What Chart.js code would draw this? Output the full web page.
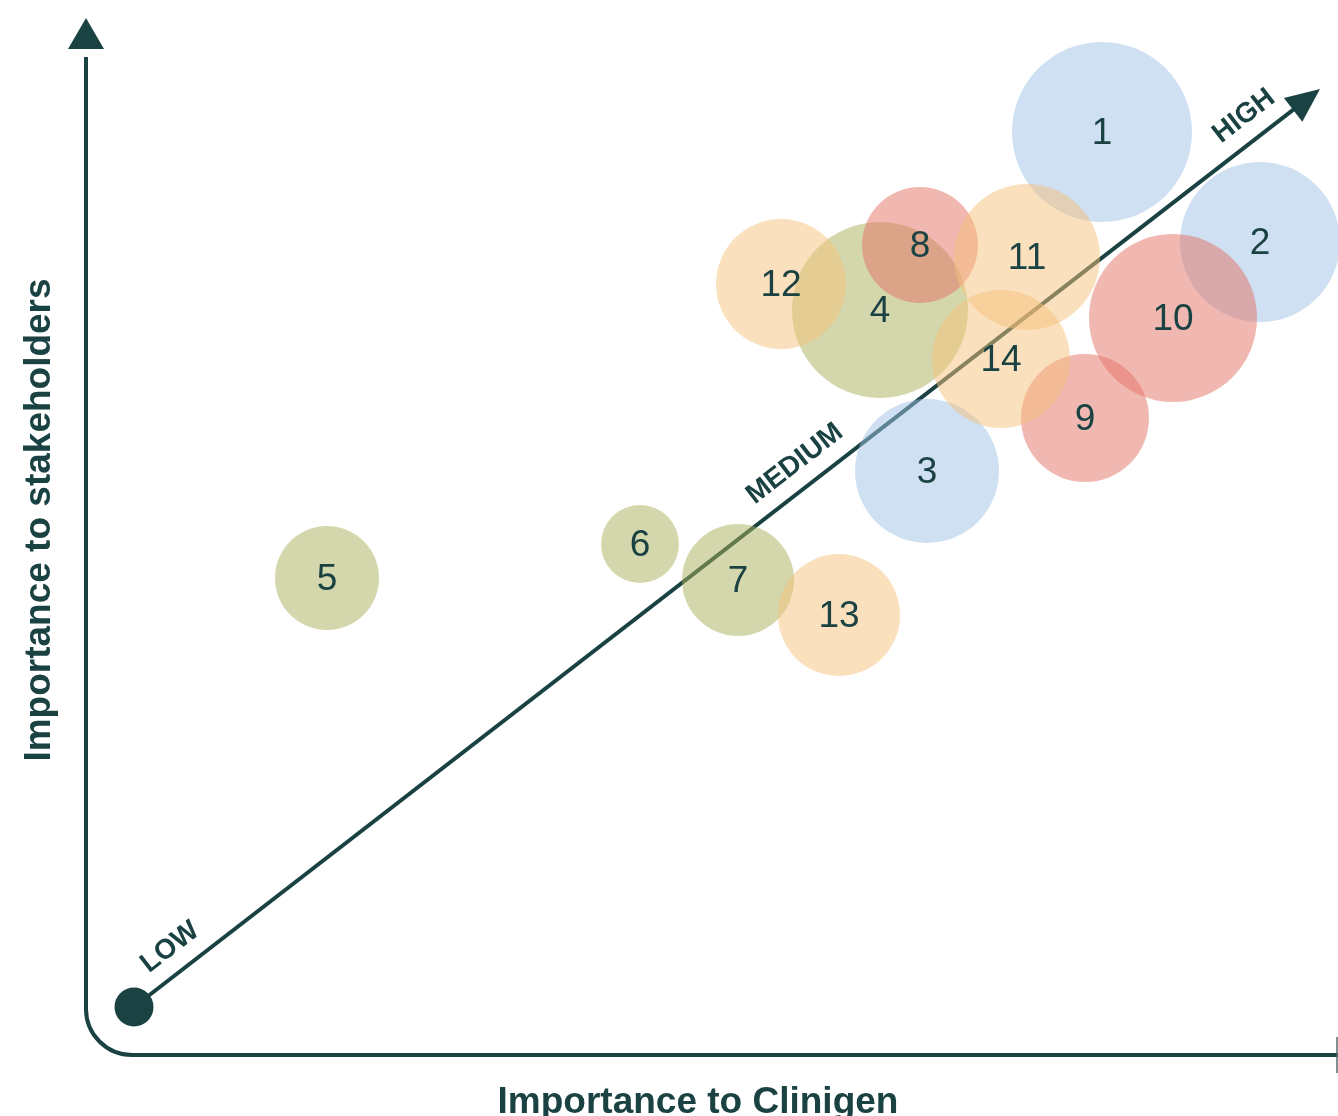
<!DOCTYPE html>
<html>
<head>
<meta charset="utf-8">
<script src="https://cdn.jsdelivr.net/npm/chart.js@4/dist/chart.umd.min.js"></script>
<style>
  html, body { margin: 0; padding: 0; background: #ffffff; }
  #wrap { width: 1338px; height: 1116px; }
</style>
</head>
<body>
<div id="wrap"><canvas id="c" width="1338" height="1116"></canvas></div>
<script>
// ---- data (origin = LOW dot; 1 unit = 100px) ----
const labels     = ['1','2','3','4','5','6','7','8','9','10','11','12','13','14'];
const clinigen   = [9.68, 11.26, 7.93, 7.46, 1.93, 5.06, 6.04, 7.86, 9.51, 10.39, 8.93, 6.47, 7.05, 8.67];
const stakeholders = [8.75, 7.65, 5.36, 6.97, 4.29, 4.63, 4.27, 7.62, 5.89, 6.89, 7.50, 7.23, 3.92, 6.48];
const sizes      = [90, 80, 72, 88, 52, 39, 56, 58, 64, 84, 73, 65, 61, 69];
const groups     = ['blue','blue','blue','green','green','green','green','red','red','red','orange','orange','orange','orange'];
const levelLabels = ['LOW', 'MEDIUM', 'HIGH'];
const levelPos    = [0.65, 8.55, 14.23]; // distance along diagonal (units)
const xTitle = 'Importance to Clinigen';
const yTitle = 'Importance to stakeholders';

const palette = {
  blue:   'rgba(159,193,229,0.5)',
  green:  'rgba(169,175,89,0.5)',
  red:    'rgba(227,113,101,0.5)',
  orange: 'rgba(245,193,123,0.5)'
};
const INK = '#1b4242';

const points = labels.map((l, i) => ({ x: clinigen[i], y: stakeholders[i], r: sizes[i] }));

const decor = {
  id: 'decor',
  beforeDatasetsDraw(chart) {
    const { ctx, scales: { x, y } } = chart;
    const ox = x.getPixelForValue(0), oy = y.getPixelForValue(0);
    const tx = x.getPixelForValue(11.86), ty = y.getPixelForValue(9.18);
    ctx.save();
    ctx.strokeStyle = INK; ctx.fillStyle = INK;
    // L-shaped axis with rounded corner
    const ax = x.getPixelForValue(-0.48);
    const ay = y.getPixelForValue(-0.48);
    const rad = 46;
    ctx.lineWidth = 4;
    ctx.beginPath();
    ctx.moveTo(ax, y.getPixelForValue(9.5));
    ctx.lineTo(ax, ay - rad);
    ctx.arcTo(ax, ay, ax + rad, ay, rad);
    ctx.lineTo(x.getPixelForValue(12.04), ay);
    ctx.stroke();
    // vertical arrow head
    const top = y.getPixelForValue(9.89);
    ctx.beginPath();
    ctx.moveTo(ax, top);
    ctx.lineTo(ax - 18, top + 31);
    ctx.lineTo(ax + 18, top + 31);
    ctx.closePath(); ctx.fill();
    // small end tick at right
    ctx.lineWidth = 1.5;
    ctx.strokeStyle = '#556b6b';
    ctx.beginPath();
    ctx.moveTo(x.getPixelForValue(12.03), ay - 18);
    ctx.lineTo(x.getPixelForValue(12.03), ay + 18);
    ctx.stroke();
    // diagonal
    const ang = Math.atan2(ty - oy, tx - ox);
    const hl = 34;
    ctx.strokeStyle = INK;
    ctx.lineWidth = 4;
    ctx.beginPath();
    ctx.moveTo(ox, oy);
    ctx.lineTo(tx - Math.cos(ang) * (hl - 4), ty - Math.sin(ang) * (hl - 4));
    ctx.stroke();
    ctx.beginPath();
    ctx.moveTo(tx, ty);
    ctx.lineTo(tx - Math.cos(ang) * hl + Math.sin(ang) * 15, ty - Math.sin(ang) * hl - Math.cos(ang) * 15);
    ctx.lineTo(tx - Math.cos(ang) * hl - Math.sin(ang) * 15, ty - Math.sin(ang) * hl + Math.cos(ang) * 15);
    ctx.closePath(); ctx.fill();
    // origin dot
    ctx.beginPath();
    ctx.arc(ox, oy, 19.5, 0, Math.PI * 2);
    ctx.fill();
    // level labels
    ctx.font = 'bold 28px "Liberation Sans", Arial, sans-serif';
    ctx.textAlign = 'center'; ctx.textBaseline = 'middle';
    levelLabels.forEach((t, i) => {
      const d = levelPos[i] * 100;
      const px = ox + Math.cos(ang) * d + Math.sin(ang) * 25;
      const py = oy + Math.sin(ang) * d - Math.cos(ang) * 25;
      ctx.save();
      ctx.translate(px, py);
      ctx.rotate(ang);
      ctx.fillText(t, 0, 0);
      ctx.restore();
    });
    // axis titles
    ctx.font = 'bold 37px "Liberation Sans", Arial, sans-serif';
    ctx.fillText(xTitle, x.getPixelForValue(5.64), y.getPixelForValue(-0.96));
    ctx.save();
    ctx.translate(x.getPixelForValue(-0.94), y.getPixelForValue(4.87));
    ctx.rotate(-Math.PI / 2);
    ctx.fillText(yTitle, 0, 0);
    ctx.restore();
    ctx.restore();
  },
  afterDatasetsDraw(chart) {
    const { ctx } = chart;
    const meta = chart.getDatasetMeta(0);
    ctx.save();
    ctx.fillStyle = INK;
    ctx.font = '37px "Liberation Sans", Arial, sans-serif';
    ctx.textAlign = 'center'; ctx.textBaseline = 'middle';
    meta.data.forEach((el, i) => {
      ctx.fillText(labels[i], el.x, el.y + 2);
    });
    ctx.restore();
  }
};

new Chart(document.getElementById('c'), {
  type: 'bubble',
  data: {
    datasets: [{
      data: points,
      backgroundColor: groups.map(g => palette[g]),
      borderWidth: 0,
      hoverBorderWidth: 0,
      clip: false
    }]
  },
  options: {
    responsive: false,
    animation: false,
    events: [],
    layout: { padding: 0, autoPadding: false },
    plugins: { legend: { display: false }, tooltip: { enabled: false } },
    scales: {
      x: { type: 'linear', display: false, min: -1.34, max: 12.04 },
      y: { type: 'linear', display: false, min: -1.09, max: 10.07 }
    }
  },
  plugins: [decor]
});
</script>
</body>
</html>
